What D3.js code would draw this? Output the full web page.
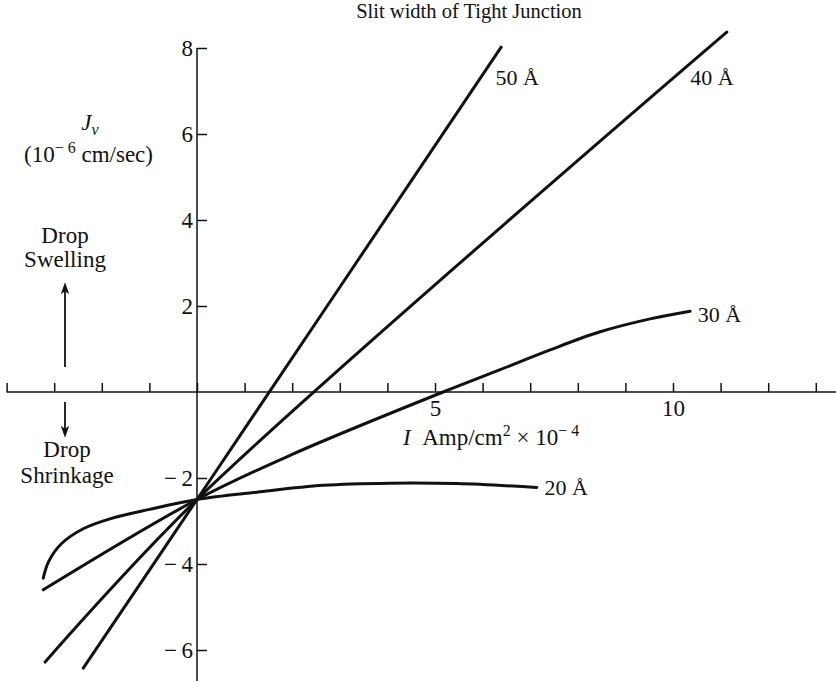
<!DOCTYPE html>
<html>
<head>
<meta charset="utf-8">
<script src="https://cdn.jsdelivr.net/npm/d3@7"></script>
<style>
  body { margin: 0; background: #fff; }
  svg { display: block; font-family: "Liberation Serif", "Times New Roman", serif; }
</style>
</head>
<body>
<script>
const width = 836;
const height = 681;

// current density I (Amp/cm2 x 10^-4) vs volume flow Jv (10^-6 cm/sec)
const xTicks = [-4, -3, -2, -1, 0, 1, 2, 3, 4, 5, 6, 7, 8, 9, 10, 11, 12, 13];
const xLabels = [5, 10];
const yTicks = [-6, -4, -2, 2, 4, 6, 8];

const slitWidths = ["50 Å", "40 Å", "30 Å", "20 Å"];
const slit50 = [[-2.39, -6.42], [0, -2.5], [6.39, 8.02]];
const slit40 = [[-3.19, -6.28], [0, -2.5], [11.13, 8.37]];
const slit30 = [[-3.23, -4.6], [0, -2.5], [2, -1.45], [5.17, 0], [6.37, 0.52],
  [7.42, 0.98], [8.47, 1.4], [9.52, 1.7], [10.36, 1.88]];
const slit20 = [[-3.23, -4.33], [-3.12, -3.95], [-2.85, -3.53], [-2.39, -3.18],
  [-1.83, -2.95], [-1, -2.73], [0, -2.5], [1.26, -2.33], [2.65, -2.17],
  [4.05, -2.12], [5.46, -2.13], [7.14, -2.22]];
const series = [slit50, slit40, slit30, slit20];
const labelPos = [[6.27, 7.14], [10.36, 7.14], [10.52, 1.63], [7.3, -2.4]];

const x = d3.scaleLinear().domain([-4, 13]).range([6.6, 815.8]);
const y = d3.scaleLinear().domain([-6, 8]).range([650, 48]);

const svg = d3.select("body").append("svg")
  .attr("width", width)
  .attr("height", height);

svg.append("defs").append("marker")
  .attr("id", "head")
  .attr("viewBox", "0 0 10 10")
  .attr("refX", 6).attr("refY", 5)
  .attr("markerWidth", 12).attr("markerHeight", 12)
  .attr("markerUnits", "userSpaceOnUse")
  .attr("orient", "auto")
  .append("path")
  .attr("d", "M0,1.5 L10,5 L0,8.5 L2.5,5 Z")
  .attr("fill", "#111");

// x axis: ticks pointing up, labels only at 5 and 10
const xAxis = svg.append("g")
  .attr("transform", `translate(0,${y(0)})`)
  .call(d3.axisBottom(x)
    .tickValues(xTicks)
    .tickSize(-9)
    .tickSizeOuter(0)
    .tickPadding(8)
    .tickFormat(d => xLabels.includes(d) ? d : ""));
xAxis.select(".domain").remove();
xAxis.append("line")
  .attr("x1", x(-4)).attr("x2", width)
  .attr("stroke", "#111").attr("stroke-width", 1.5);

// y axis: ticks pointing right, labels on the left
const yAxis = svg.append("g")
  .attr("transform", `translate(${x(0)},0)`)
  .call(d3.axisLeft(y)
    .tickValues(yTicks)
    .tickSize(-10)
    .tickSizeOuter(0)
    .tickPadding(4)
    .tickFormat(d => d < 0 ? "\u2212\u2009" + Math.abs(d) : d));
yAxis.select(".domain").remove();
yAxis.append("line")
  .attr("y1", y(8)).attr("y2", height)
  .attr("stroke", "#111").attr("stroke-width", 1.5);

svg.selectAll(".tick line").attr("stroke", "#111").attr("stroke-width", 1.5);
svg.selectAll(".tick text")
  .attr("fill", "#111")
  .attr("font-size", 23)
  .attr("font-family", "Liberation Serif, serif");

const line = d3.line()
  .x(d => x(d[0]))
  .y(d => y(d[1]))
  .curve(d3.curveCatmullRom.alpha(0.5));

svg.append("g")
  .attr("fill", "none")
  .attr("stroke", "#111")
  .attr("stroke-width", 3)
  .attr("stroke-linecap", "round")
  .selectAll("path")
  .data(series)
  .join("path")
  .attr("d", line);

// labels at the end of each curve
svg.append("g")
  .attr("font-size", 22)
  .attr("fill", "#111")
  .selectAll("text")
  .data(slitWidths)
  .join("text")
  .attr("x", (d, i) => x(labelPos[i][0]))
  .attr("y", (d, i) => y(labelPos[i][1]))
  .text(d => d);

const txt = svg.append("g").attr("font-size", 23).attr("fill", "#111");

txt.append("text")
  .attr("x", 469).attr("y", 18)
  .attr("text-anchor", "middle")
  .attr("font-size", 20.5)
  .text("Slit width of Tight Junction");

const jv = txt.append("text")
  .attr("x", 90).attr("y", 130)
  .attr("text-anchor", "middle")
  .attr("font-style", "italic");
jv.append("tspan").text("J");
jv.append("tspan").attr("dy", 5).attr("font-size", 16).text("v");

const unit = txt.append("text")
  .attr("x", 24).attr("y", 162);
unit.append("tspan").text("(10");
unit.append("tspan").attr("dy", -9).attr("font-size", 16).text("\u2212 6");
unit.append("tspan").attr("dy", 9).text(" cm/sec)");

const xl = txt.append("text")
  .attr("x", 403).attr("y", 445);
xl.append("tspan").attr("font-style", "italic").text("I");
xl.append("tspan").text("\u2002Amp/cm");
xl.append("tspan").attr("dy", -9).attr("font-size", 16).text("2");
xl.append("tspan").attr("dy", 9).text(" \u00d7 10");
xl.append("tspan").attr("dy", -9).attr("font-size", 16).text("\u2212 4");

txt.selectAll(".drop")
  .data([["Drop", 65, 243], ["Swelling", 65, 267], ["Drop", 67, 457], ["Shrinkage", 67, 483]])
  .join("text")
  .attr("text-anchor", "middle")
  .attr("x", d => d[1])
  .attr("y", d => d[2])
  .text(d => d[0]);

svg.append("g")
  .attr("stroke", "#111")
  .attr("stroke-width", 1.8)
  .selectAll("line")
  .data([[367, 287], [402, 433]])
  .join("line")
  .attr("x1", 65).attr("x2", 65)
  .attr("y1", d => d[0]).attr("y2", d => d[1])
  .attr("marker-end", "url(#head)");
</script>
</body>
</html>
